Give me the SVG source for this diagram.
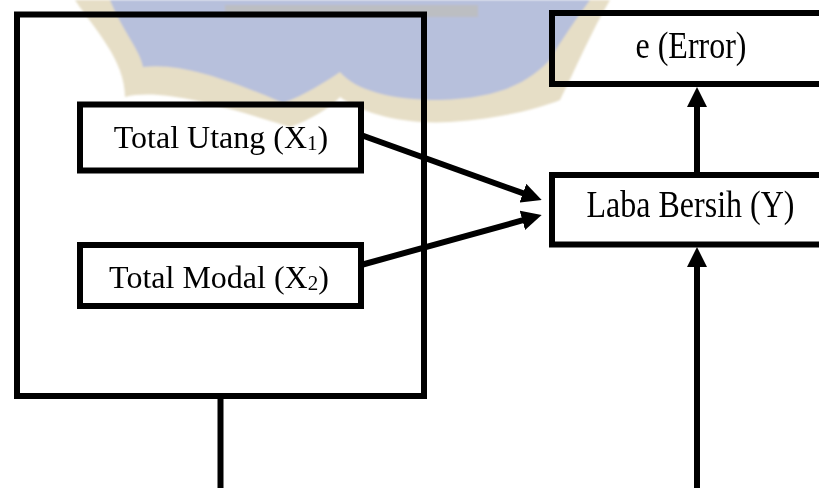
<svg xmlns="http://www.w3.org/2000/svg" width="819" height="488" viewBox="0 0 819 488">
  <style>
    .box { fill: #ffffff; stroke: #000000; stroke-width: 6; }
    .lbl { font-family: "Liberation Serif", "Times New Roman", serif; font-size: 32px; fill: #000000; text-anchor: middle; }
    .sub { font-size: 21px; }
    .wire { fill: none; stroke: #000000; stroke-width: 6; }
    .mark { mix-blend-mode: multiply; filter: url(#soft); }
  </style>
  <defs>
    <marker id="head" viewBox="0 0 20 20" refX="8" refY="10" markerWidth="20" markerHeight="20" markerUnits="userSpaceOnUse" orient="auto">
      <path d="M0,0 L20,10 L0,20 Z" fill="#000000"/>
    </marker>
    <filter id="soft" x="-5%" y="-5%" width="110%" height="110%">
      <feGaussianBlur stdDeviation="1.2"/>
    </filter>
  </defs>

  <rect width="819" height="488" fill="#ffffff"/>

  <!-- independent variables frame -->
  <g id="frame-x">
    <rect class="box" x="17" y="14.5" width="407" height="381.5" fill="none" style="fill:none"/>
  </g>

  <g id="node-x1">
    <rect class="box" x="80" y="104.5" width="281" height="66"/>
    <text class="lbl" x="221" y="148">Total Utang (X<tspan class="sub" dy="2">1</tspan><tspan dy="-2">)</tspan></text>
  </g>

  <g id="node-x2">
    <rect class="box" x="80" y="245" width="281" height="61"/>
    <text class="lbl" x="219" y="288">Total Modal (X<tspan class="sub" dy="2">2</tspan><tspan dy="-2">)</tspan></text>
  </g>

  <g id="node-error">
    <rect class="box" x="552" y="13" width="290" height="71"/>
    <text class="lbl" transform="translate(691,58) scale(1,1.18)">e (Error)</text>
  </g>

  <g id="node-y">
    <rect class="box" x="552" y="175" width="290" height="69.5"/>
    <text class="lbl" transform="translate(690.5,217) scale(1,1.18)">Laba Bersih (Y)</text>
  </g>

  <!-- connectors -->
  <g id="connectors">
    <path class="wire" d="M361,135 L530.4,195.9" marker-end="url(#head)"/>
    <path class="wire" d="M361,265 L530.1,218.2" marker-end="url(#head)"/>
    <path class="wire" d="M697,172 V99" marker-end="url(#head)"/>
    <path class="wire" d="M220.5,396 V492 H697 V259" marker-end="url(#head)"/>
  </g>

  <!-- background emblem -->
  <g id="emblem" class="mark">
    <path fill="#e6dec6" d="M75,0 C95,30 125,60 125,97 C160,88 220,105 290,127 C310,120 330,108 340,97 C360,112 400,125 450,122 C505,118 540,108 560,100 C575,70 592,30 610,0 Z"/>
    <path fill="#b7c0dc" d="M110,0 C122,30 140,50 143,67 C180,62 230,80 283,103 C305,95 325,82 340,72 C355,90 390,100 440,100 C490,98 522,88 548,62 C562,40 575,20 590,0 Z"/>
    <rect x="225" y="5" width="253" height="12" fill="#bdbdbd" opacity="0.85"/>
  </g>
</svg>
